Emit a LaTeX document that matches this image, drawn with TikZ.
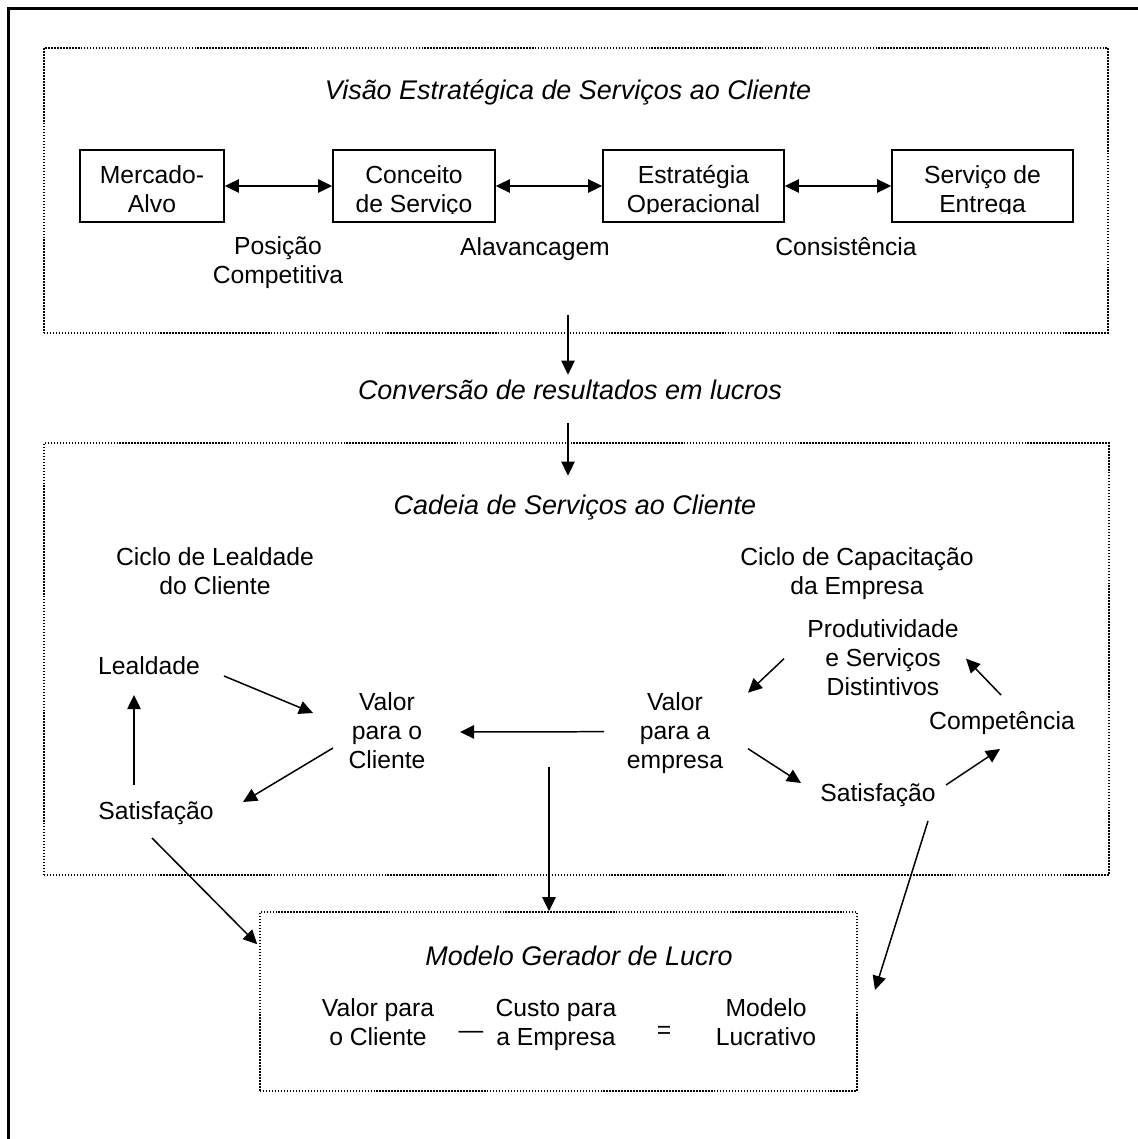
\documentclass[tikz,border=0pt]{standalone}
\usepackage{fontspec}
\setmainfont{Liberation Sans}
\usetikzlibrary{arrows.meta,calc,fit}
\newcommand\bodysize{\fontsize{14.06pt}{16.44pt}\selectfont}
\newcommand\headsize{\fontsize{15.34pt}{16.44pt}\selectfont\itshape}
\tikzset{
  lbl/.style={align=center, inner sep=0pt, font=\bodysize, yshift=-1.7pt,
    execute at begin node=\strut, execute at end node=\strut},
  head/.style={lbl, font=\headsize},
  stage/.style={draw, line width=0.9pt, inner sep=0pt},
  zone/.style={draw, line width=0.85pt, dash pattern=on 0.85pt off 0.85pt, inner sep=0pt},
  arr/.style={-{Triangle[length=8pt,width=7.6pt]}, line width=0.85pt},
  biarr/.style={{Triangle[length=8pt,width=7.6pt]}-{Triangle[length=8pt,width=7.6pt]}, line width=0.85pt},
}
\begin{document}
\begin{tikzpicture}[x=0.02cm, y=-0.02cm]
\useasboundingbox (0,0) rectangle (1138,1139);
\clip (0,0) rectangle (1138,1139);
\fill[white] (0,0) rectangle (1138,1139);
% outer frame (runs past the page on the right and bottom)
\draw[line width=1.7pt] (8.5,8.5) rectangle (1200,1200);

% dotted zones
\node[zone, fit={(44,48) (1108,333)}] (vision) {};
\node[zone, fit={(44,443) (1109,875)}] (chain) {};
\node[zone, fit={(260,912) (857,1091)}] (mbox) {};

% strategic vision
\node[head] (vtitle) at (568,91) {Visão Estratégica de Serviços ao Cliente};
\node[stage, fit={(80,150) (224,222)}] (mA) {};
\node[stage, fit={(333,150) (495,222)}] (cS) {};
\node[stage, fit={(603,150) (784,222)}] (eO) {};
\node[stage, fit={(892,150) (1073,222)}] (sE) {};
\begin{scope}
  \clip (80,150) rectangle (1073,213);
  \node[lbl] (mA-t) at (152,190) {Mercado-\\Alvo};
  \node[lbl] (cS-t) at (414,190) {Conceito\\de Serviço};
  \node[lbl] (eO-t) at (693.5,190) {Estratégia\\Operacional};
  \node[lbl] (sE-t) at (982.5,190) {Serviço de\\Entrega};
\end{scope}
\draw[biarr] (mA) -- (cS);
\draw[biarr] (cS) -- (eO);
\draw[biarr] (eO) -- (sE);
\node[lbl] (pos) at (278,261.7) {Posição\\Competitiva};
\node[lbl] (alav) at (535,247) {Alavancagem};
\node[lbl] (cons) at (846,247) {Consistência};

% conversion into profit
\node[head] (conv) at (570,391) {Conversão de resultados em lucros};
\node[head] (cadeia) at (575,506) {Cadeia de Serviços ao Cliente};
\coordinate (vis-out) at (568,315);
\draw[arr, shorten >=0.09cm] (vis-out) -- (vis-out |- conv.north);
\draw[arr, shorten <=0.29cm, shorten >=0.37cm] (vis-out |- conv.south) -- (vis-out |- cadeia.north);

% service chain
\node[lbl] (cicloL) at (215,572) {Ciclo de Lealdade\\do Cliente};
\node[lbl] (cicloC) at (857,572) {Ciclo de Capacitação\\da Empresa};
\node[lbl] (leal) at (149,666) {Lealdade};
\node[lbl] (satL) at (156,811) {Satisfação};
\node[lbl] (vcli) at (387,732) {Valor\\para o\\Cliente};
\node[lbl] (vemp) at (675,731.7) {Valor\\para a\\empresa};
\node[lbl] (prod) at (883,658.7) {Produtividade\\e Serviços\\Distintivos};
\node[lbl] (comp) at (1002,721) {Competência};
\node[lbl] (satR) at (878,793) {Satisfação};

\draw[arr] ($(satL)+(-22,-29)$) -- ($(leal)+(-15,26)$);
\draw[arr] ($(leal)+(75,7)$) -- ($(vcli)+(-74,-22)$);
\draw[arr] ($(vcli)+(-54,13)$) -- ($(satL)+(87,-12)$);
\draw[arr] ($(vemp)+(-71,-3)$) -- ($(vcli)+(73,-3)$);
\draw[arr] ($(prod)+(-99,-3)$) -- ($(vemp)+(73,-42)$);
\draw[arr] ($(vemp)+(73,14)$) -- ($(satR)+(-77,-13)$);
\draw[arr] ($(satR)+(68,-11)$) -- ($(comp)+(-2,25)$);
\draw[arr] ($(comp)+(-1,-29)$) -- ($(prod)+(83,-3)$);

% profit model
\node[head] (mtitle) at (579,957) {Modelo Gerador de Lucro};
\node[lbl] (vpc) at (378,1023.7) {Valor para\\o Cliente};
\node[lbl] (minus) at (471,1030) {—};
\node[lbl] (cpe) at (556,1023.7) {Custo para\\a Empresa};
\node[lbl] (eq) at (664,1029.6) {=};
\node[lbl] (ml) at (766,1023.7) {Modelo\\Lucrativo};

\coordinate (split) at (549,767);
\draw[arr] (split) -- (split |- mbox.north);
\draw[arr] ($(satL)+(-4,24)$) -- ($(mbox.north west)+(-2,33)$);
\coordinate (loss) at (875,990);
\draw[arr] ($(satR)+(50,25)$) -- (loss);
\end{tikzpicture}
\end{document}
